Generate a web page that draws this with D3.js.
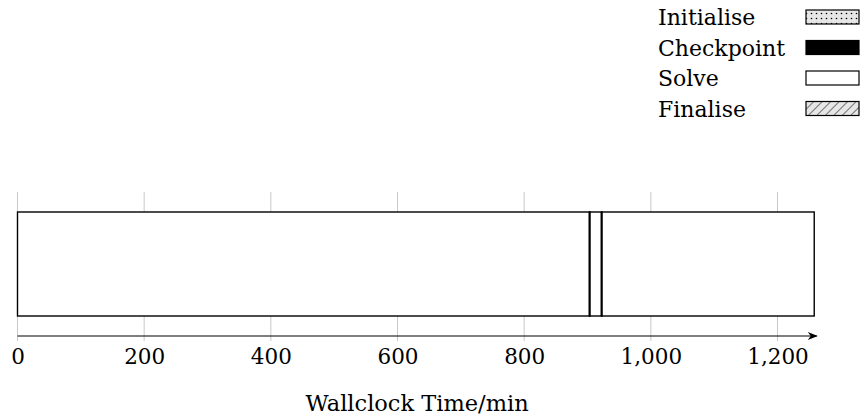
<!DOCTYPE html>
<html>
<head>
<meta charset="utf-8">
<script src="https://cdn.jsdelivr.net/npm/d3@7"></script>
<style>
  body { margin: 0; background: #fff; }
  text { font-family: "DejaVu Serif", serif; fill: #000; }
</style>
</head>
<body>
<script>
// phases of the run, in minutes
const phases = ["Initialise", "Checkpoint", "Solve", "Finalise"];
const segPhase = ["Initialise", "Solve", "Checkpoint", "Solve", "Checkpoint", "Solve", "Finalise"];
const segStart = [0, 0, 903, 904, 922, 923, 1258];
const segEnd   = [0, 903, 904, 922, 923, 1258, 1258];
const xTicks = [0, 200, 400, 600, 800, 1000, 1200];
const xLabel = "Wallclock Time/min";

const width = 861, height = 419;
const margin = {left: 17.5, right: 46};

const svg = d3.select("body").append("svg")
  .attr("width", width)
  .attr("height", height);

const defs = svg.append("defs");
const dots = defs.append("pattern")
  .attr("id", "dots").attr("patternUnits", "userSpaceOnUse")
  .attr("width", 5).attr("height", 5);
dots.append("rect").attr("width", 5).attr("height", 5).attr("fill", "#e6e6e6");
dots.append("circle").attr("cx", 1.5).attr("cy", 1.5).attr("r", 0.8).attr("fill", "#000");
const hatch = defs.append("pattern")
  .attr("id", "hatch").attr("patternUnits", "userSpaceOnUse")
  .attr("width", 6).attr("height", 6)
  .attr("patternTransform", "rotate(45)");
hatch.append("rect").attr("width", 6).attr("height", 6).attr("fill", "#e6e6e6");
hatch.append("line").attr("x1", 0).attr("y1", 0).attr("x2", 0).attr("y2", 6)
  .attr("stroke", "#000").attr("stroke-width", 1);

const fills = {Initialise: "url(#dots)", Checkpoint: "#000", Solve: "#fff", Finalise: "url(#hatch)"};

const x = d3.scaleLinear()
  .domain([0, 1200])
  .range([margin.left, margin.left + 760]);

const barTop = 212, barBottom = 316, axisY = 336;

// grid lines
svg.append("g")
  .selectAll("line")
  .data(xTicks)
  .join("line")
  .attr("x1", d => x(d)).attr("x2", d => x(d))
  .attr("y1", 192).attr("y2", 341)
  .attr("stroke", "#c8c8c8")
  .attr("stroke-width", 1);

// bar segments
const segs = segPhase.map((p, i) => ({phase: p, start: segStart[i], end: segEnd[i]}));
svg.append("g")
  .selectAll("rect")
  .data(segs.filter(d => d.end > d.start))
  .join("rect")
  .attr("x", d => x(d.start))
  .attr("width", d => x(d.end) - x(d.start))
  .attr("y", barTop)
  .attr("height", barBottom - barTop)
  .attr("fill", d => fills[d.phase])
  .attr("stroke", "#000")
  .attr("stroke-width", 1.4);

// axis
const xAxis = svg.append("g")
  .attr("transform", "translate(0," + axisY + ")")
  .call(d3.axisBottom(x).tickValues(xTicks).tickSize(0).tickPadding(13)
    .tickFormat(d3.format(",")));
xAxis.select(".domain").remove();
xAxis.selectAll("text").attr("font-size", 21.5).attr("font-family", "DejaVu Serif");

svg.append("line")
  .attr("x1", x(0)).attr("x2", x(1262))
  .attr("y1", axisY).attr("y2", axisY)
  .attr("stroke", "#000").attr("stroke-width", 1.2);
svg.append("path")
  .attr("d", "M" + (x(1262) - 9) + "," + (axisY - 4) + " L" + (x(1262) + 1) + "," + axisY +
    " L" + (x(1262) - 9) + "," + (axisY + 4) + " L" + (x(1262) - 6) + "," + axisY + "Z")
  .attr("fill", "#000");

svg.append("text")
  .attr("x", (x(0) + x(1262)) / 2)
  .attr("y", 411)
  .attr("text-anchor", "middle")
  .attr("font-size", 22.5)
  .text(xLabel);

// legend
const legend = svg.append("g").selectAll("g")
  .data(phases)
  .join("g")
  .attr("transform", (d, i) => "translate(0," + (17 + i * 30.5) + ")");
legend.append("text")
  .attr("x", 658).attr("y", 8)
  .attr("font-size", 22)
  .text(d => d);
legend.append("rect")
  .attr("x", 806).attr("y", -7)
  .attr("width", 53).attr("height", 14)
  .attr("fill", d => fills[d])
  .attr("stroke", "#000")
  .attr("stroke-width", 1.2);
</script>
</body>
</html>
